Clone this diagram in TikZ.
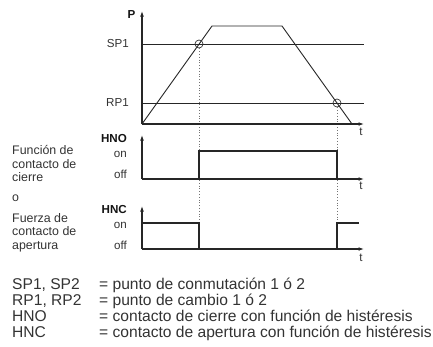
\documentclass[tikz,border=0pt]{standalone}
\usepackage{fontspec}
\setmainfont{Liberation Sans}
\usetikzlibrary{arrows.meta}
\begin{document}
\begin{tikzpicture}[x=1pt,y=-1pt,
  axis/.style={line width=1.3pt, black!85, -{Latex[length=5.5pt,width=3.8pt]}},
  sig/.style={line width=1.2pt, black!85},
  curve/.style={line width=0.9pt, black!85},
  level/.style={line width=0.9pt, black!85},
  guide/.style={line width=0.8pt, dotted, black!55},
  ring/.style={circle, draw=black!80, line width=0.7pt, minimum size=8pt, inner sep=0pt},
  small/.style={inner sep=0pt, text=black!80, font=\fontsize{11.6}{13}\selectfont},
  smallbold/.style={inner sep=0pt, text=black!92, font=\bfseries\fontsize{11.6}{13}\selectfont},
  side/.style={inner sep=0pt, text=black!80, anchor=base west, font=\fontsize{12.4}{14}\selectfont},
  legend/.style={inner sep=0pt, text=black!80, anchor=base west, font=\fontsize{15.6}{16}\selectfont}
]
\useasboundingbox (0,0) rectangle (433,346);

% ---------- top panel (P) ----------
\coordinate (o1) at (142,124);
\coordinate (p1) at (142,11);
\coordinate (t1) at (364,124);
\coordinate (sp1a) at (142,44);
\coordinate (sp1b) at (364,44);
\coordinate (rp1a) at (142,103);
\coordinate (rp1b) at (364,103);
\coordinate (up) at (212,26);
\coordinate (down) at (282,26);
\coordinate (end) at (352,124);

\draw[level] (sp1a) -- (sp1b);
\draw[level] (rp1a) -- (rp1b);
\draw[curve] (o1) -- (up) -- (down) -- (end);

\node[ring] (c1) at (199,44) {};
\node[ring] (c2) at (337,103) {};

\node[smallbold] (P) at (131.5,15) {P};
\node[small, anchor=east] (SP1) at (129,44) {SP1};
\node[small, anchor=east] (RP1) at (129,103) {RP1};
\node[small] (tA) at (361,132) {t};

% ---------- guides ----------
\coordinate (g1) at (199,249);
\coordinate (g2) at (337,249);
\draw[guide] (c1.south) -- (g1);
\draw[guide] (c2.south) -- (g2);

\draw[axis] (o1) -- (p1);
\draw[axis] (o1) -- (t1);

% ---------- HNO ----------
\coordinate (o2) at (142,179);
\coordinate (p2) at (142,135);
\coordinate (t2) at (364,179);
\coordinate (h1) at (199,179);
\coordinate (h2) at (199,151);
\coordinate (h3) at (337,151);
\coordinate (h4) at (337,179);
\draw[sig] (h1) -- (h2) -- (h3) -- (h4);
\draw[axis] (o2) -- (p2);
\draw[axis] (o2) -- (t2);
\node[smallbold, anchor=east] (HNO) at (127,139) {HNO};
\node[small, anchor=east] (on1) at (127,154) {on};
\node[small, anchor=east] (off1) at (127,174) {off};
\node[small] (tB) at (361,186) {t};

% ---------- HNC ----------
\coordinate (o3) at (142,249);
\coordinate (p3) at (142,206);
\coordinate (t3) at (364,249);
\coordinate (k0) at (142,223);
\coordinate (k1) at (199,223);
\coordinate (k2) at (199,249);
\coordinate (k3) at (337,249);
\coordinate (k4) at (337,223);
\coordinate (k5) at (359,223);
\draw[sig] (k0) -- (k1) -- (k2);
\draw[sig] (k3) -- (k4) -- (k5);
\draw[axis] (o3) -- (p3);
\draw[axis] (o3) -- (t3);
\node[smallbold, anchor=east] (HNC) at (127,210) {HNC};
\node[small, anchor=east] (on2) at (127,225) {on};
\node[small, anchor=east] (off2) at (127,245) {off};
\node[small] (tC) at (361,258) {t};

% ---------- side labels ----------
\node[side] (s1) at (12,154.5) {Función de};
\node[side] (s2) at (12,168) {contacto de};
\node[side] (s3) at (12,181) {cierre};
\node[side] (s4) at (12,201) {o};
\node[side] (s5) at (12,222) {Fuerza de};
\node[side] (s6) at (12,235.5) {contacto de};
\node[side] (s7) at (12,249) {apertura};

% ---------- legend ----------
\node[legend] (l1) at (12,289) {SP1, SP2};
\node[legend] (l2) at (12,305) {RP1, RP2};
\node[legend] (l3) at (12,321) {HNO};
\node[legend] (l4) at (12,337) {HNC};
\node[legend] (r1) at (99,289) {= punto de conmutación 1 ó 2};
\node[legend] (r2) at (99,305) {= punto de cambio 1 ó 2};
\node[legend] (r3) at (99,321) {= contacto de cierre con función de histéresis};
\node[legend] (r4) at (99,337) {= contacto de apertura con función de histéresis};
\end{tikzpicture}
\end{document}
